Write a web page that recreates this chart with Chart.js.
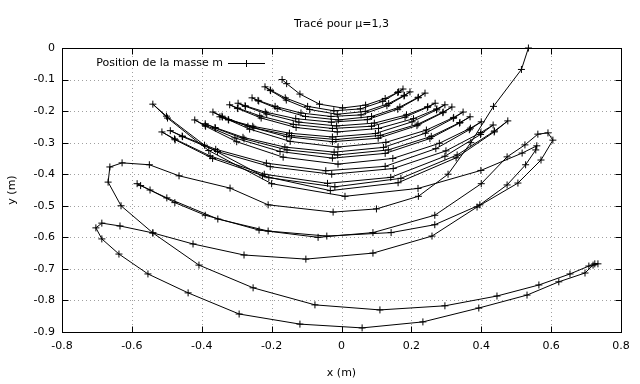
<!DOCTYPE html>
<html>
<head>
<meta charset="utf-8">
<script src="https://cdn.jsdelivr.net/npm/chart.js@4.4.1/dist/chart.umd.min.js"></script>
<style>
html,body{margin:0;padding:0;background:#fff;}
canvas{display:block;}
</style>
</head>
<body>
<canvas id="c" width="640" height="384"></canvas>
<script>
// ---- data (x, y in metres) ----
const chartTitle = "Tracé pour μ=1,3";
const seriesLabel = "Position de la masse m";
const xAxisTitle = "x (m)";
const yAxisTitle = "y (m)";
const xTicks = [-0.8, -0.6, -0.4, -0.2, 0, 0.2, 0.4, 0.6, 0.8];
const xTickLabels = ["-0.8", "-0.6", "-0.4", "-0.2", "0", "0.2", "0.4", "0.6", "0.8"];
const yTicks = [-0.9, -0.8, -0.7, -0.6, -0.5, -0.4, -0.3, -0.2, -0.1, 0];
const yTickLabels = ["-0.9", "-0.8", "-0.7", "-0.6", "-0.5", "-0.4", "-0.3", "-0.2", "-0.1", "0"];

const s00 = [[0.535,0.0],[0.515,-0.068],[0.435,-0.185],[0.37,-0.30],[0.305,-0.40],[0.22,-0.47],[0.10,-0.51],[-0.024,-0.52],[-0.21,-0.497],[-0.319,-0.444],[-0.465,-0.405],[-0.55,-0.37],[-0.628,-0.364],[-0.663,-0.377],[-0.668,-0.425],[-0.631,-0.50],[-0.54,-0.586],[-0.408,-0.688],[-0.253,-0.76],[-0.076,-0.814],[0.110,-0.830],[0.296,-0.817],[0.445,-0.786],[0.565,-0.751],[0.654,-0.716],[0.708,-0.691],[0.725,-0.684],[0.734,-0.684]];
const s01 = [[0.72,-0.688],[0.697,-0.713],[0.622,-0.741],[0.531,-0.783],[0.393,-0.824],[0.233,-0.868],[0.059,-0.887],[-0.119,-0.875],[-0.293,-0.843],[-0.439,-0.776],[-0.554,-0.716],[-0.637,-0.653],[-0.686,-0.605],[-0.703,-0.570],[-0.686,-0.555],[-0.634,-0.564],[-0.540,-0.586],[-0.425,-0.621],[-0.279,-0.656],[-0.102,-0.669],[0.090,-0.650],[0.259,-0.596],[0.388,-0.504],[0.505,-0.428],[0.571,-0.355],[0.605,-0.292]];
const s02 = [[0.591,-0.269],[0.562,-0.273],[0.525,-0.307],[0.474,-0.345],[0.40,-0.43],[0.267,-0.53],[0.09,-0.585],[-0.067,-0.6],[-0.236,-0.577],[-0.39,-0.53],[-0.477,-0.49],[-0.548,-0.45],[-0.585,-0.43]];
const s03 = [[-0.575,-0.436],[-0.50,-0.475],[-0.354,-0.542],[-0.21,-0.58],[-0.042,-0.596],[0.142,-0.585],[0.267,-0.56],[0.396,-0.497],[0.474,-0.434],[0.527,-0.37],[0.556,-0.323],[0.559,-0.31]];
const s04 = [[0.517,-0.333],[0.399,-0.388],[0.219,-0.445],[0.01,-0.47],[-0.20,-0.43],[-0.38,-0.325],[-0.498,-0.222],[-0.54,-0.178]];
const s05 = [[-0.501,-0.216],[-0.392,-0.308],[-0.226,-0.405],[-0.032,-0.452],[0.162,-0.427],[0.328,-0.348],[0.437,-0.266],[0.476,-0.231]];
const s06 = [[0.438,-0.263],[0.331,-0.339],[0.170,-0.413],[-0.019,-0.44],[-0.208,-0.411],[-0.369,-0.350],[-0.476,-0.291],[-0.514,-0.266]];
const s07 = [[-0.478,-0.288],[-0.376,-0.342],[-0.221,-0.40],[-0.04,-0.429],[0.141,-0.41],[0.296,-0.343],[0.398,-0.274],[0.434,-0.244]];
const s08 = [[0.399,-0.268],[0.299,-0.326],[0.148,-0.382],[-0.028,-0.40],[-0.204,-0.376],[-0.355,-0.328],[-0.455,-0.281],[-0.49,-0.262]];
const s09 = [[-0.456,-0.279],[-0.36,-0.321],[-0.215,-0.365],[-0.045,-0.389],[0.125,-0.375],[0.27,-0.319],[0.366,-0.259],[0.40,-0.234]];
const s10 = [[0.369,-0.254],[0.28,-0.302],[0.147,-0.35],[-0.01,-0.368],[-0.167,-0.346],[-0.30,-0.297],[-0.389,-0.248],[-0.42,-0.228]];
const s11 = [[-0.39,-0.245],[-0.305,-0.285],[-0.176,-0.328],[-0.026,-0.349],[0.125,-0.334],[0.253,-0.287],[0.338,-0.238],[0.368,-0.218]];
const s12 = [[0.339,-0.236],[0.257,-0.28],[0.134,-0.323],[-0.011,-0.339],[-0.156,-0.323],[-0.279,-0.288],[-0.361,-0.254],[-0.39,-0.24]];
const s13 = [[-0.362,-0.252],[-0.282,-0.283],[-0.162,-0.314],[-0.021,-0.33],[0.12,-0.315],[0.24,-0.27],[0.32,-0.223],[0.348,-0.203]];
const s14 = [[0.321,-0.22],[0.243,-0.26],[0.127,-0.299],[-0.01,-0.314],[-0.147,-0.296],[-0.263,-0.257],[-0.341,-0.219],[-0.368,-0.203]];
const s15 = [[-0.342,-0.216],[-0.268,-0.248],[-0.157,-0.281],[-0.026,-0.297],[0.105,-0.286],[0.216,-0.246],[0.29,-0.205],[0.316,-0.187]];
const s16 = [[0.291,-0.203],[0.219,-0.241],[0.111,-0.277],[-0.016,-0.29],[-0.143,-0.278],[-0.251,-0.253],[-0.323,-0.228],[-0.348,-0.218]];
const s17 = [[-0.324,-0.227],[-0.254,-0.248],[-0.149,-0.27],[-0.026,-0.282],[0.097,-0.271],[0.202,-0.234],[0.272,-0.196],[0.296,-0.18]];
const s18 = [[0.273,-0.193],[0.206,-0.224],[0.106,-0.255],[-0.012,-0.266],[-0.13,-0.252],[-0.23,-0.222],[-0.297,-0.192],[-0.32,-0.18]];
const s19 = [[-0.298,-0.19],[-0.234,-0.215],[-0.138,-0.242],[-0.026,-0.255],[0.086,-0.248],[0.182,-0.219],[0.246,-0.188],[0.268,-0.175]];
const s20 = [[0.247,-0.186],[0.186,-0.212],[0.094,-0.238],[-0.014,-0.247],[-0.122,-0.235],[-0.214,-0.209],[-0.275,-0.185],[-0.296,-0.175]];
const s21 = [[-0.276,-0.183],[-0.218,-0.203],[-0.131,-0.224],[-0.029,-0.235],[0.074,-0.227],[0.161,-0.194],[0.219,-0.158],[0.239,-0.143]];
const s22 = [[0.22,-0.156],[0.167,-0.187],[0.086,-0.217],[-0.009,-0.228],[-0.103,-0.217],[-0.184,-0.192],[-0.237,-0.168],[-0.256,-0.158]];
const s23 = [[-0.239,-0.166],[-0.19,-0.185],[-0.116,-0.206],[-0.03,-0.217],[0.056,-0.212],[0.13,-0.183],[0.179,-0.152],[0.196,-0.139]];
const s24 = [[0.18,-0.15],[0.135,-0.176],[0.068,-0.201],[-0.012,-0.21],[-0.091,-0.195],[-0.158,-0.165],[-0.203,-0.135],[-0.219,-0.123]];
const s25 = [[-0.204,-0.133],[-0.161,-0.158],[-0.097,-0.185],[-0.022,-0.199],[0.054,-0.193],[0.118,-0.169],[0.161,-0.141],[0.176,-0.13]];
const s26 = [[0.163,-0.139],[0.125,-0.16],[0.069,-0.181],[0.003,-0.19],[-0.063,-0.178],[-0.119,-0.146],[-0.157,-0.113],[-0.17,-0.10]];

const swings = [s00,s01,s02,s03,s04,s05,s06,s07,s08,s09,s10,s11,s12,s13,s14,s15,s16,s17,s18,s19,s20,s21,s22,s23,s24,s25,s26];
const points = [];
swings.forEach(s => s.forEach(p => points.push({x: p[0], y: p[1]})));

const FONT = '"DejaVu Sans", sans-serif';

const decor = {
  id: 'decor',
  beforeDatasetsDraw(chart) {
    const ctx = chart.ctx, a = chart.chartArea;
    const xs = chart.scales.x, ys = chart.scales.y;
    ctx.save();
    ctx.strokeStyle = '#a0a0a0';
    ctx.lineWidth = 1;
    ctx.setLineDash([1, 3]);
    xTicks.forEach(v => {
      const px = Math.round(xs.getPixelForValue(v)) + 0.5;
      ctx.beginPath(); ctx.moveTo(px, a.top); ctx.lineTo(px, a.bottom); ctx.stroke();
    });
    yTicks.forEach(v => {
      const py = Math.round(ys.getPixelForValue(v)) + 0.5;
      ctx.beginPath(); ctx.moveTo(a.left, py); ctx.lineTo(a.right, py); ctx.stroke();
    });
    ctx.restore();
  },
  afterDraw(chart) {
    const ctx = chart.ctx, a = chart.chartArea;
    const xs = chart.scales.x, ys = chart.scales.y;
    ctx.save();
    ctx.strokeStyle = '#000';
    ctx.lineWidth = 1;
    ctx.setLineDash([]);
    const L = Math.round(a.left) + 0.5, R = Math.round(a.right) + 0.5;
    const T = Math.round(a.top) + 0.5, B = Math.round(a.bottom) + 0.5;
    ctx.strokeRect(L, T, R - L, B - T);
    const tl = 6;
    ctx.beginPath();
    xTicks.forEach(v => {
      const px = Math.round(xs.getPixelForValue(v)) + 0.5;
      ctx.moveTo(px, B); ctx.lineTo(px, B - tl);
      ctx.moveTo(px, T); ctx.lineTo(px, T + tl);
    });
    yTicks.forEach(v => {
      const py = Math.round(ys.getPixelForValue(v)) + 0.5;
      ctx.moveTo(L, py); ctx.lineTo(L + tl, py);
      ctx.moveTo(R, py); ctx.lineTo(R - tl, py);
    });
    ctx.stroke();

    ctx.fillStyle = '#000';
    ctx.font = '11px ' + FONT;
    ctx.textAlign = 'center';
    ctx.textBaseline = 'alphabetic';
    ctx.fillText(chartTitle, (a.left + a.right) / 2, 27);
    ctx.textBaseline = 'middle';
    ctx.fillText(xAxisTitle, (a.left + a.right) / 2, 373);
    ctx.save();
    ctx.translate(12, (a.top + a.bottom) / 2);
    ctx.rotate(-Math.PI / 2);
    ctx.fillText(yAxisTitle, 0, 0);
    ctx.restore();
    ctx.textAlign = 'right';
    ctx.fillText(seriesLabel, 223, 63);
    ctx.strokeStyle = '#000';
    ctx.beginPath();
    ctx.moveTo(228, 63.5); ctx.lineTo(265, 63.5);
    ctx.moveTo(246.5, 60); ctx.lineTo(246.5, 67);
    ctx.stroke();
    ctx.restore();
  }
};

new Chart(document.getElementById('c'), {
  type: 'scatter',
  data: {
    datasets: [{
      label: seriesLabel,
      data: points,
      showLine: true,
      borderColor: '#000',
      borderWidth: 1,
      tension: 0,
      fill: false,
      pointStyle: 'cross',
      pointRadius: 3.5,
      pointHoverRadius: 3.5,
      pointBorderColor: '#000',
      pointBorderWidth: 1,
      clip: false
    }]
  },
  options: {
    responsive: false,
    animation: false,
    devicePixelRatio: 1,
    layout: { padding: { top: 48, right: 19, left: 0, bottom: 0 } },
    plugins: { legend: { display: false }, tooltip: { enabled: false }, title: { display: false } },
    scales: {
      x: {
        type: 'linear', min: -0.8, max: 0.8,
        afterBuildTicks: s => { s.ticks = xTicks.map(v => ({ value: v })); },
        afterFit: s => { s.height = 52; },
        ticks: { callback: (v, i) => xTickLabels[i], color: '#000', font: { family: FONT, size: 11 }, padding: 8, maxRotation: 0, autoSkip: false },
        grid: { display: false, drawTicks: false },
        border: { display: false }
      },
      y: {
        type: 'linear', min: -0.9, max: 0,
        afterBuildTicks: s => { s.ticks = yTicks.map(v => ({ value: v })); },
        afterFit: s => { s.width = 62; },
        ticks: { callback: (v, i) => yTickLabels[i], color: '#000', font: { family: FONT, size: 11 }, padding: 7, autoSkip: false },
        grid: { display: false, drawTicks: false },
        border: { display: false }
      }
    }
  },
  plugins: [decor]
});
</script>
</body>
</html>
